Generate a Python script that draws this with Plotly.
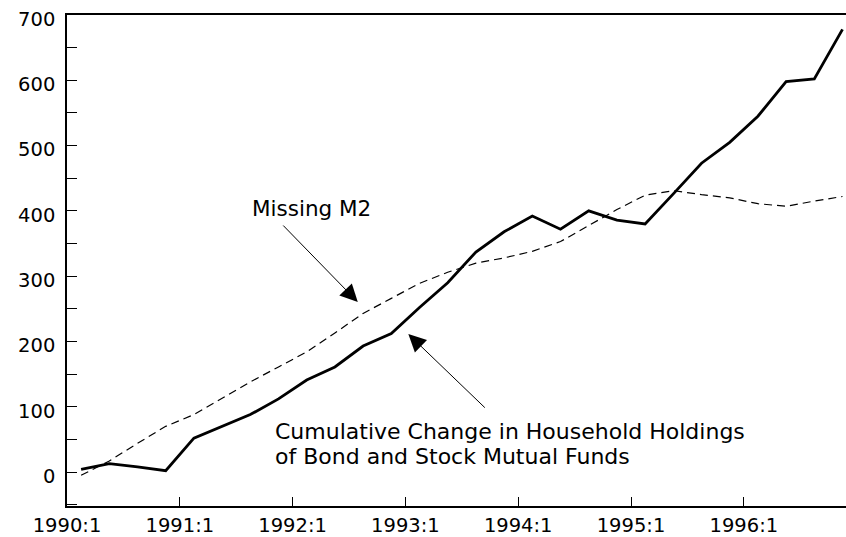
import plotly.graph_objects as go

# Quarterly observations 1990:1 .. 1996:4 (plotted at mid-quarter)
years = [1990, 1991, 1992, 1993, 1994, 1995, 1996]
quarters = [1, 2, 3, 4]

mutual_funds = [4, 13, 8, 2, 52, 70, 88, 112, 141, 161, 193, 212,
                252, 290, 337, 368, 392, 372, 400, 386, 380, 426, 473, 505,
                545, 598, 602, 678]
missing_m2 = [-5, 17, 44, 70, 88, 113, 138, 161, 184, 213, 243, 266,
              289, 306, 320, 328, 338, 353, 378, 402, 424, 431, 425, 420,
              411, 407, 415, 422]

tick_years = [1990, 1991, 1992, 1993, 1994, 1995, 1996]
tick_text = [f"{y}:1" for y in tick_years]
y_ticks = [0, 100, 200, 300, 400, 500, 600, 700]

x_vals = [y + (q - 0.5) / 4 for y in years for q in quarters]

FONT = "DejaVu Sans"
fs = 19.5
afs = 21.5
cfs = 22

fig = go.Figure()
fig.add_trace(go.Scatter(x=x_vals, y=missing_m2, mode="lines",
                         line=dict(color="black", width=1.2, dash="8px,5px"),
                         name="Missing M2"))
fig.add_trace(go.Scatter(x=x_vals, y=mutual_funds, mode="lines",
                         line=dict(color="black", width=2.8),
                         name="Cumulative Change"))

fig.update_layout(
    template="none",
    width=846, height=537,
    margin=dict(l=67, r=0, t=15, b=31, pad=0),
    paper_bgcolor="white", plot_bgcolor="white",
    showlegend=False,
    font=dict(family=FONT, size=fs, color="black"),
    xaxis=dict(range=[1990, 1990 + 779 / 112.8], tickvals=tick_years, ticktext=tick_text,
               ticks="inside", ticklen=9, tickwidth=1.3, tickcolor="black",
               showline=True, linecolor="black", linewidth=1.5, mirror=True,
               showgrid=False, zeroline=False, ticklabelstandoff=1,
               ticklabeloverflow="allow", automargin=False),
    yaxis=dict(range=[-52, 700], tickvals=y_ticks,
               ticks="inside", ticklen=10, tickwidth=1.3, tickcolor="black",
               minor=dict(dtick=50, tick0=0, ticks="inside", ticklen=10, tickwidth=1.3,
                          tickcolor="black", showgrid=False),
               showline=True, linecolor="black", linewidth=1.5,
               showgrid=False, zeroline=False, ticklabelstandoff=6,
               ticklabelshift=4, ticklabeloverflow="allow", automargin=False),
)

fig.add_annotation(x=1991.62, y=403.6, text="Missing M2", showarrow=False,
                   xanchor="left", yanchor="middle", font=dict(size=afs))
fig.add_annotation(x=1991.83, y=61.8,
                   text="Cumulative Change in Household Holdings",
                   showarrow=False, xanchor="left", yanchor="middle",
                   font=dict(size=cfs))
fig.add_annotation(x=1991.83, y=23.4,
                   text="of Bond and Stock Mutual Funds",
                   showarrow=False, xanchor="left", yanchor="middle",
                   font=dict(size=cfs))

fig.add_annotation(x=1992.578, y=260.4, text="", showarrow=True, ax=-76, ay=-78,
                   arrowhead=2, arrowsize=3.5, arrowwidth=1, arrowcolor="black")
fig.add_annotation(x=1993.026, y=211.3, text="", showarrow=True, ax=78, ay=75,
                   arrowhead=2, arrowsize=3.5, arrowwidth=1, arrowcolor="black")

fig.write_html("out.html",
               config={"displayModeBar": False},
               post_script="document.body.style.margin='0';"
                           "document.body.style.overflow='hidden';")
